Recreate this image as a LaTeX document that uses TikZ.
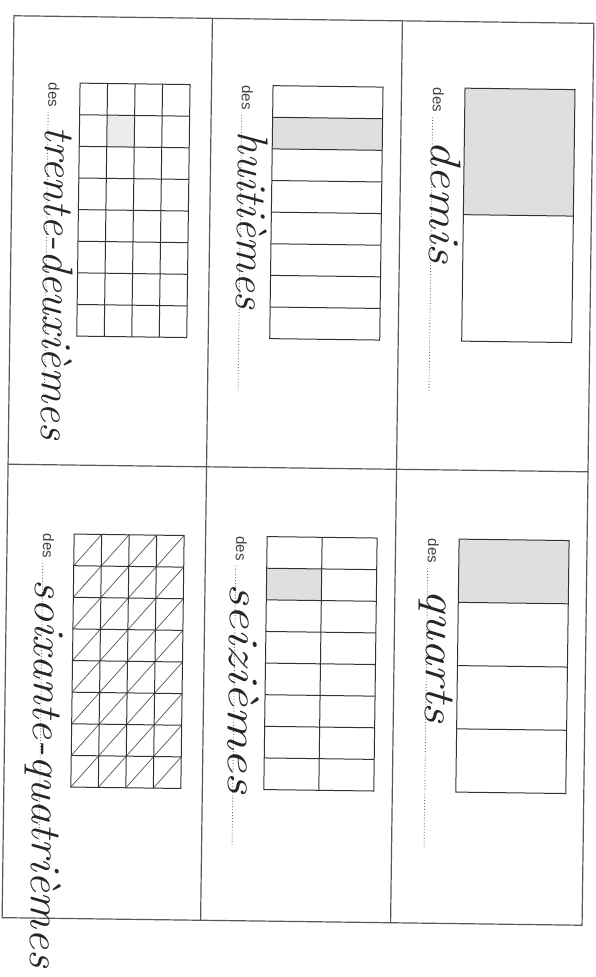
\documentclass[tikz,border=0pt]{standalone}
\usepackage{fontspec}
\newfontfamily\desfont{Liberation Sans}
\begin{document}
\begin{tikzpicture}[
    x=1pt, y=-1pt,
    cadre/.style={draw=black!65, line width=1.2pt},
    barre/.style={draw=black!80, line width=1pt},
    diag/.style={draw=black!60, line width=0.8pt},
    grise/.style={fill=gray!#1, draw=none},
    grise/.default=25,
    des/.style={rotate=-90, anchor=base west, inner sep=0pt, transform shape, text=black!75, font=\desfont\fontsize{15}{15}\selectfont},
    ecrit/.style={rotate=-90, anchor=base west, inner sep=0pt, transform shape, text=black!85, font=\fontsize{43}{43}\selectfont\itshape},
    pointilles/.style={dotted, draw=black!55, line width=0.9pt}
]
    \useasboundingbox (0,0) rectangle (596,977);
    \begin{scope}[rotate around={-0.75:(298,470.5)}]

    % Cadre de la fiche
    \draw[cadre] (8,19.5) rectangle (588,921.5);
    \draw[cadre] (206.5,19.5) -- (206.5,921.5);
    \draw[cadre] (396.5,19.5) -- (396.5,921.5);
    \draw[cadre] (8,468) -- (588,468);

    % Des demis
    \fill[grise] (460,86) rectangle (570,212.5);
    \draw[barre] (460,86) rectangle (570,339);
    \draw[barre] (460,212.5) -- (570,212.5);
    \node[des] (des1) at (428,86) {des};
    \draw[pointilles] (des1.base east) ++(0,5) -- ++(0,276);
    \node[ecrit] (mot1) at (427,139) {\resizebox{122pt}{\height}{demis}};

    % Des huitiemes
    \fill[grise] (268,117.625) rectangle (378,149.25);
    \draw[barre] (268,86) rectangle (378,339);
    \foreach \i in {1,...,7}
        \draw[barre] (268,{86+\i*31.625}) -- (378,{86+\i*31.625});
    \node[des] (des2) at (237,86) {des};
    \draw[pointilles] (des2.base east) ++(0,5) -- ++(0,276);
    \node[ecrit] (mot2) at (234,132) {\resizebox{178pt}{\height}{huitièmes}};

    % Des trente-deuxiemes
    \fill[grise=15] (102.5,117.625) rectangle (130,149.25);
    \draw[barre] (75,86) rectangle (185,339);
    \foreach \i in {1,...,7}
        \draw[barre] (75,{86+\i*31.625}) -- (185,{86+\i*31.625});
    \foreach \j in {1,2,3}
        \draw[barre] ({75+\j*27.5},86) -- ({75+\j*27.5},339);
    \node[des] (des3) at (43.5,86) {des};
    \draw[pointilles] (des3.base east) ++(0,5) -- ++(0,276);
    \node[ecrit] (mot3) at (41,130) {\resizebox{313pt}{\height}{trente-deuxièmes}};

    % Des quarts
    \fill[grise] (460,537) rectangle (570,600.25);
    \draw[barre] (460,537) rectangle (570,790);
    \foreach \i in {1,2,3}
        \draw[barre] (460,{537+\i*63.25}) -- (570,{537+\i*63.25});
    \node[des] (des4) at (429,537) {des};
    \draw[pointilles] (des4.base east) ++(0,5) -- ++(0,279);
    \node[ecrit] (mot4) at (429,588) {\resizebox{133pt}{\height}{quarts}};

    % Des seiziemes
    \fill[grise] (268,568.625) rectangle (323,600.25);
    \draw[barre] (268,537) rectangle (378,790);
    \foreach \i in {1,...,7}
        \draw[barre] (268,{537+\i*31.625}) -- (378,{537+\i*31.625});
    \draw[barre] (323,537) -- (323,790);
    \node[des] (des5) at (237,537) {des};
    \draw[pointilles] (des5.base east) ++(0,5) -- ++(0,279);
    \node[ecrit] (mot5) at (232,584) {\resizebox{211pt}{\height}{seizièmes}};

    % Des soixante-quatriemes
    \foreach \i in {0,...,7}
        \foreach \j in {0,...,3}
            \draw[diag] ({75+\j*27.5},{537+(\i+1)*31.625}) -- ({75+(\j+1)*27.5},{537+\i*31.625});
    \draw[barre] (75,537) rectangle (185,790);
    \foreach \i in {1,...,7}
        \draw[barre] (75,{537+\i*31.625}) -- (185,{537+\i*31.625});
    \foreach \j in {1,2,3}
        \draw[barre] ({75+\j*27.5},537) -- ({75+\j*27.5},790);
    \node[des] (des6) at (44,537) {des};
    \draw[pointilles] (des6.base east) ++(0,5) -- ++(0,279);
    \node[ecrit] (mot6) at (37,583) {\resizebox{388pt}{\height}{soixante-quatrièmes}};

    \end{scope}
\end{tikzpicture}
\end{document}
